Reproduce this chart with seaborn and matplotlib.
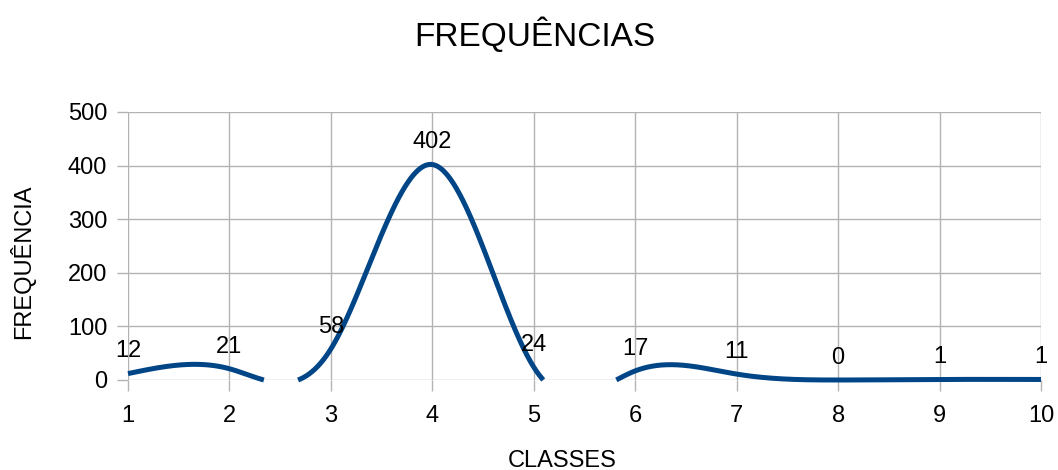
import numpy as np
import pandas as pd
import matplotlib
matplotlib.use("Agg")
import matplotlib.pyplot as plt
import seaborn as sns

classes = [1, 2, 3, 4, 5, 6, 7, 8, 9, 10]
freqs = [12, 21, 58, 402, 24, 17, 11, 0, 1, 1]
yticks = [0, 100, 200, 300, 400, 500]

title = "FREQUÊNCIAS"
xlabel = "CLASSES"
ylabel = "FREQUÊNCIA"

sns.set_theme(style="white")
plt.rcParams['font.family'] = ['Liberation Sans', 'DejaVu Sans']


def natural_spline(x, y, n=4000):
    x = np.asarray(x, float)
    y = np.asarray(y, float)
    k = len(x)
    h = np.diff(x)
    A = np.zeros((k, k))
    b = np.zeros(k)
    A[0, 0] = 1
    A[-1, -1] = 1
    for i in range(1, k - 1):
        A[i, i - 1] = h[i - 1]
        A[i, i] = 2 * (h[i - 1] + h[i])
        A[i, i + 1] = h[i]
        b[i] = 3 * ((y[i + 1] - y[i]) / h[i] - (y[i] - y[i - 1]) / h[i - 1])
    c = np.linalg.solve(A, b)
    xs = np.linspace(x[0], x[-1], n)
    idx = np.clip(np.searchsorted(x, xs, side="right") - 1, 0, k - 2)
    dx = xs - x[idx]
    bb = (y[idx + 1] - y[idx]) / h[idx] - h[idx] * (2 * c[idx] + c[idx + 1]) / 3
    dd = (c[idx + 1] - c[idx]) / (3 * h[idx])
    ys = y[idx] + bb * dx + c[idx] * dx ** 2 + dd * dx ** 3
    return xs, ys


fig = plt.figure(figsize=(10.58, 4.70), dpi=100)
ax = fig.add_axes([128 / 1058, 1 - 380 / 470, (1041 - 128) / 1058, (380 - 112) / 470])

xs, ys = natural_spline(classes, freqs)
neg = ys < 0
# negative runs: deep ones become gaps (clipped by axis), shallow ones sit on 0
run_id = np.cumsum(np.r_[0, np.diff(neg.astype(int)) != 0])
mask = np.ones_like(ys, dtype=bool)
for r in np.unique(run_id[neg]):
    sel = run_id == r
    if ys[sel].min() < -5:
        mask[sel] = False
ys = np.maximum(ys, 0)
seg_id = np.cumsum(np.r_[0, np.diff(mask.astype(int)) != 0])
for s in np.unique(seg_id[mask]):
    sel = mask & (seg_id == s)
    df = pd.DataFrame({"x": xs[sel], "y": ys[sel]})
    sns.lineplot(data=df, x="x", y="y", ax=ax, sort=False, color="#004586",
                 linewidth=3.6, clip_on=False, solid_capstyle="butt")

for xv, yv in zip(classes, freqs):
    ax.annotate(str(yv), (xv, yv), xytext=(0, 8), textcoords="offset points",
                ha="center", va="bottom", fontsize=17, color="black",
                annotation_clip=False)

ax.set_xlim(1, 10)
ax.set_ylim(0, 500)
ax.set_xticks(classes)
ax.set_yticks(yticks)
ax.set_xticklabels([str(c) for c in classes])
ax.set_yticklabels([str(t) for t in yticks])
ax.grid(True, color="#b3b3b3", linewidth=1)
ax.set_axisbelow(True)
for sp in ax.spines.values():
    sp.set_visible(False)
ax.tick_params(axis="both", which="major", length=8, width=1, color="#b3b3b3",
               labelsize=17, labelcolor="black", direction="out", pad=7,
               bottom=True, left=True)
ax.tick_params(axis="x", pad=10)
ax.set_xlabel(xlabel, fontsize=17, color="black")
ax.set_ylabel(ylabel, fontsize=17, color="black")
ax.xaxis.set_label_coords((562 - 128) / 913, -(461 - 380) / 268)
ax.yaxis.set_label_coords(-(128 - 22) / 913, (380 - 262) / 268)
ax.xaxis.label.set_va("center")
ax.yaxis.label.set_va("center")
fig.suptitle(title, x=535 / 1058, y=1 - 35 / 470, va="center", fontsize=24, color="black")

fig.savefig("out.png", dpi=100)
